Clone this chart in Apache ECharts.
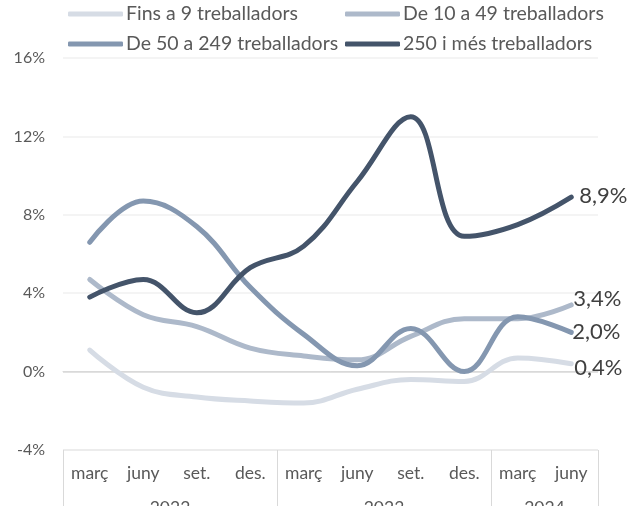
<!DOCTYPE html>
<html><head><meta charset="utf-8">
<script src="https://cdn.jsdelivr.net/npm/echarts@6/dist/echarts.min.js"></script>
<style>html,body{margin:0;padding:0;background:#fff}#c{width:638px;height:506px}</style>
</head><body><div id="c"></div>
<script>
const categories = ['març','juny','set.','des.','març','juny','set.','des.','març','juny'];
const years = ['2022','2023','2024'];
const quartersPerYear = [4,4,2];
const seriesNames = ['Fins a 9 treballadors','De 10 a 49 treballadors','De 50 a 249 treballadors','250 i més treballadors'];
const fins9 = [1.1, -0.8, -1.3, -1.5, -1.6, -0.9, -0.4, -0.5, 0.7, 0.4];
const de10 = [4.7, 2.9, 2.3, 1.2, 0.8, 0.6, 1.8, 2.7, 2.7, 3.4];
const de50 = [6.6, 8.7, 7.4, 4.3, 1.9, 0.3, 2.2, 0.0, 2.8, 2.0];
const mes250 = [3.8, 4.7, 3.0, 5.3, 6.4, 9.7, 13.0, 6.9, 7.5, 8.9];
const yTicks = [-4, 0, 4, 8, 12, 16];

const FONT = 'Lato';
const colors = ['#D6DCE5','#ADB9CA','#8497B0','#44546A'];
const values = [fins9, de10, de50, mes250];
const endOffsets = [[1,4],[0,-6],[-1,0],[6,-1]];

// year group boundaries and centers
const bounds = [0]; quartersPerYear.forEach(n => bounds.push(bounds[bounds.length-1] + n));
const centers = quartersPerYear.map((n,i) => bounds[i] + n/2);
const total = bounds[bounds.length-1];

const chart = echarts.init(document.getElementById('c'));
const legendPos = [{left:68, top:4},{left:345, top:4},{left:68, top:34},{left:345, top:34}];
chart.setOption({
  animation: false,
  textStyle: {fontFamily: FONT},
  legend: seriesNames.map((n,i) => ({
    data: [n], left: legendPos[i].left, top: legendPos[i].top, padding: 0,
    icon: 'roundRect', itemWidth: 55, itemHeight: 5, itemGap: 4,
    textStyle: {fontFamily: FONT, fontSize: 19.5, color: '#595959', padding:[0,0,0,-2]}
  })),
  grid: {left: 63, right: 40, top: 58, bottom: 56, outerBoundsMode: 'none', containLabel: false},
  xAxis: [{
    type: 'category', data: categories, boundaryGap: true,
    axisLine: {show: true, lineStyle: {color: '#D9D9D9', width: 1}},
    axisTick: {show: false},
    axisLabel: {fontFamily: FONT, fontSize: 17.5, color: '#595959', margin: 14, interval: 0}
  },{
    type: 'value', min: 0, max: total, position: 'bottom',
    axisLine: {show: false}, splitLine: {show: false},
    axisTick: {show: true, customValues: bounds, length: 60, lineStyle: {color: '#D9D9D9', width: 1}},
    axisLabel: {show: true, customValues: centers, margin: 49, fontFamily: FONT, fontSize: 17.5, color: '#595959',
      formatter: v => years[centers.indexOf(v)] || ''}
  }],
  yAxis: {
    type: 'value', min: yTicks[0], max: yTicks[yTicks.length-1], interval: 4,
    axisLine: {show: false}, axisTick: {show: false},
    axisLabel: {fontFamily: FONT, fontSize: 16, color: '#595959', margin: 18, formatter: v => v + '%'},
    splitLine: {show: true, lineStyle: {color: ['#E6E6E6','#D9D9D9','#F0F0F0','#F0F0F0','#F0F0F0','#F0F0F0'], width: 1.5}}
  },
  series: seriesNames.map((n,i) => ({
    name: n, type: 'line', data: values[i], smooth: 0.4,
    showSymbol: false, symbol: 'none',
    lineStyle: {color: colors[i], width: 5, cap: 'round', join: 'round'},
    itemStyle: {color: colors[i]},
    endLabel: {show: true, fontFamily: FONT, fontSize: 22, color: '#404040', distance: 2,
      offset: endOffsets[i],
      formatter: p => p.value.toFixed(1).replace('.', ',') + '%'}
  }))
});
</script></body></html>
